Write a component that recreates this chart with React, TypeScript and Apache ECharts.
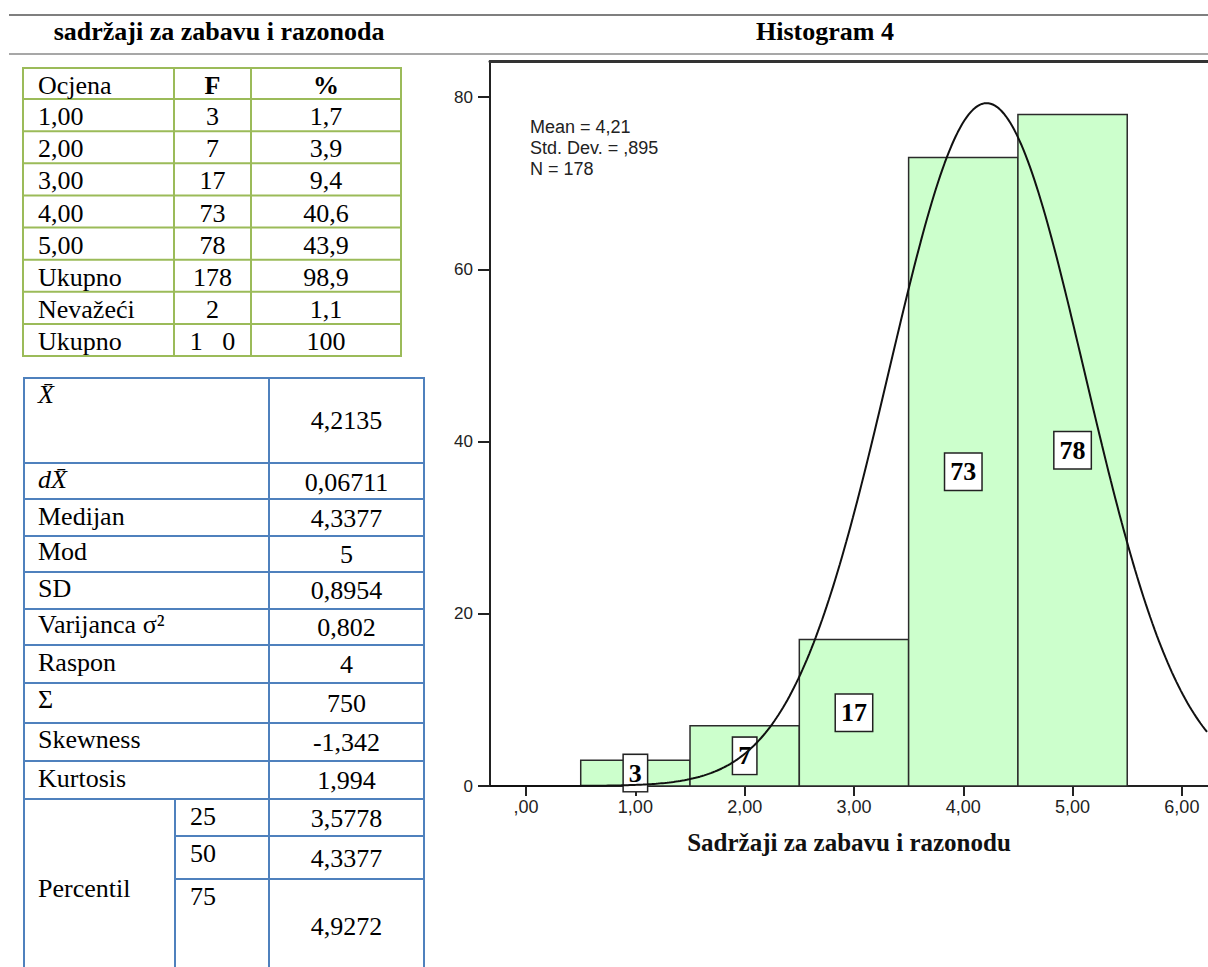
import { useEffect, useRef } from "react";
import * as echarts from "echarts";

// ---------- data ----------
const headerLeft = "sadržaji za zabavu i razonoda";
const headerRight = "Histogram 4";

const freqHeader = ["Ocjena", "F", "%"];
const freqLabels = ["1,00", "2,00", "3,00", "4,00", "5,00", "Ukupno", "Nevažeći", "Ukupno"];
const freqCounts = ["3", "7", "17", "73", "78", "178", "2", "1   0"];
const freqPercents = ["1,7", "3,9", "9,4", "40,6", "43,9", "98,9", "1,1", "100"];

const statLabels = ["X̄", "dX̄", "Medijan", "Mod", "SD", "Varijanca σ²", "Raspon", "Σ", "Skewness", "Kurtosis"];
const statValues = ["4,2135", "0,06711", "4,3377", "5", "0,8954", "0,802", "4", "750", "-1,342", "1,994"];
const percentileLabel = "Percentil";
const percentileKeys = ["25", "50", "75"];
const percentileValues = ["3,5778", "4,3377", "4,9272"];

const binCenters = [1, 2, 3, 4, 5];
const binCounts = [3, 7, 17, 73, 78];
const xTicks = [0, 1, 2, 3, 4, 5, 6];
const yTicks = [0, 20, 40, 60, 80];
const fitMean = 4.2135;
const fitSD = 0.8954;
const fitN = 178;
const statText = ["Mean = 4,21", "Std. Dev. = ,895", "N = 178"];
const xAxisTitle = "Sadržaji za zabavu i razonodu";

// ---------- layout ----------
const SERIF = '"Liberation Serif", "Times New Roman", serif';
const SANS = '"Liberation Sans", Arial, sans-serif';
const FS = 26;
const midOf = (base: number, f = FS, k = 0.34) => base - k * f;

const X_MIN = -0.33;
const X_MAX = 6.239;
const Y_MAX = 84.2;

function txt(text: string, x: number, base: number, opts: any = {}) {
  const f = opts.size || FS;
  const align = opts.align || "left";
  const font = `${opts.italic ? "italic " : ""}${opts.bold ? "bold " : ""}${f}px ${opts.family || SERIF}`;
  return {
    type: "text",
    x,
    y: midOf(base, f, opts.k || 0.34),
    silent: true,
    style: {
      text,
      font,
      fill: opts.color || "#000",
      align,
      verticalAlign: "middle",
      textAlign: align,
      textVerticalAlign: "middle",
    },
  };
}

function ln(x1: number, y1: number, x2: number, y2: number, stroke: string, lineWidth: number) {
  return { type: "line", silent: true, shape: { x1, y1, x2, y2 }, style: { stroke, lineWidth } };
}

function buildGraphics() {
  const g: any[] = [];
  // page rules and headers
  g.push(ln(9, 15, 1208, 15, "#7f7f7f", 2));
  g.push(ln(9, 54, 1208, 54, "#8a8a8a", 1.5));
  g.push(txt(headerLeft, 219, 40, { bold: true, align: "center" }));
  g.push(txt(headerRight, 825, 40, { bold: true, align: "center" }));

  // green frequency table
  const green = "#9bbb59";
  const gx = [23, 174, 251, 401];
  const gTop = 68;
  const gHead = 99;
  const gRow = 32.125;
  const gRows = freqLabels.length;
  const gBottom = gHead + gRows * gRow;
  const gLines = [gTop, gHead];
  for (let i = 1; i <= gRows; i++) gLines.push(gHead + i * gRow);
  gLines.forEach((y) => g.push(ln(gx[0] - 1, y, gx[3] + 1, y, green, 2)));
  gx.forEach((x) => g.push(ln(x, gTop, x, gBottom, green, 2)));
  const cF = (gx[1] + gx[2]) / 2;
  const cP = (gx[2] + gx[3]) / 2;
  g.push(txt(freqHeader[0], 38, 94));
  g.push(txt(freqHeader[1], cF, 94, { bold: true, align: "center" }));
  g.push(txt(freqHeader[2], cP, 94, { bold: true, align: "center" }));
  for (let i = 0; i < gRows; i++) {
    const b = gHead + i * gRow + 26.5;
    g.push(txt(freqLabels[i], 38, b));
    g.push(txt(freqCounts[i], cF, b, { align: "center" }));
    g.push(txt(freqPercents[i], cP, b, { align: "center" }));
  }

  // blue statistics table
  const blue = "#4f81bd";
  const bL = 24, bR = 424, bSep = 269, bSub = 175, bTop = 378, bBot = 967;
  const bLines = [378, 463, 499, 536, 572, 609, 645, 683, 723, 761, 799];
  bLines.forEach((y) => g.push(ln(bL - 1, y, bR + 1, y, blue, 2)));
  [836, 879].forEach((y) => g.push(ln(bSub, y, bR + 1, y, blue, 2)));
  [bL, bSep, bR].forEach((x) => g.push(ln(x, bTop, x, bBot, blue, 2)));
  g.push(ln(bSub, 799, bSub, bBot, blue, 2));
  const labelBase = [403, 488, 525, 560, 597, 633, 671, 708, 748, 787];
  const valueBase = [429, 491, 527, 563, 599, 636, 673, 712, 751, 789];
  const cV = (bSep + bR) / 2;
  for (let i = 0; i < statLabels.length; i++) {
    g.push(txt(statLabels[i], 38, labelBase[i], { italic: i < 2 }));
    g.push(txt(statValues[i], cV, valueBase[i], { align: "center" }));
  }
  const pKeyBase = [825, 862, 905];
  const pValBase = [827, 867, 935];
  g.push(txt(percentileLabel, 38, 897));
  for (let i = 0; i < percentileKeys.length; i++) {
    g.push(txt(percentileKeys[i], 190, pKeyBase[i]));
    g.push(txt(percentileValues[i], cV, pValBase[i], { align: "center" }));
  }

  // stats annotation in the plot
  const sBase = [133, 154, 175];
  statText.forEach((s, i) => g.push(txt(s, 530, sBase[i], { size: 18, family: SANS, color: "#222", k: 0.35 })));
  return g;
}

function normalCurve() {
  const pts: number[][] = [];
  const scale = fitN * 1 / (fitSD * Math.sqrt(2 * Math.PI));
  const step = 0.02;
  for (let x = X_MIN; x <= X_MAX + 1e-9; x += step) {
    const z = (x - fitMean) / fitSD;
    pts.push([x, scale * Math.exp(-0.5 * z * z)]);
  }
  return pts;
}

export default function App() {
  const ref = useRef<HTMLDivElement>(null);
  useEffect(() => {
    if (!ref.current) return;
    const chart = echarts.init(ref.current, undefined, { renderer: "svg" });
    const axisColor = "#222";
    chart.setOption({
      animation: false,
      backgroundColor: "#fff",
      grid: { left: 490, top: 61, right: 0, bottom: 181, containLabel: false },
      xAxis: [
        {
          type: "value",
          min: X_MIN,
          max: X_MAX,
          position: "bottom",
          name: xAxisTitle,
          nameLocation: "middle",
          nameGap: 44,
          nameTextStyle: { fontFamily: SERIF, fontWeight: "bold", fontSize: 25, color: "#111" },
          axisLine: { show: true, onZero: false, lineStyle: { color: axisColor, width: 2 } },
          axisTick: { show: true, length: 10, customValues: xTicks, lineStyle: { color: axisColor, width: 2 } },
          axisLabel: {
            customValues: xTicks,
            formatter: (v: number) => (v === 0 ? ",00" : `${v},00`),
            fontFamily: SANS,
            fontSize: 18,
            color: "#222",
            margin: 12,
          },
          splitLine: { show: false },
        },
        {
          type: "value",
          min: X_MIN,
          max: X_MAX,
          position: "top",
          axisLine: { show: true, onZero: false, lineStyle: { color: "#333", width: 3 } },
          axisTick: { show: false },
          axisLabel: { show: false },
          splitLine: { show: false },
        },
      ],
      yAxis: {
        type: "value",
        min: 0,
        max: Y_MAX,
        axisLine: { show: true, onZero: false, lineStyle: { color: axisColor, width: 2 } },
        axisTick: { show: true, length: 12, customValues: yTicks, lineStyle: { color: axisColor, width: 2 } },
        axisLabel: {
          customValues: yTicks,
          fontFamily: SANS,
          fontSize: 17,
          color: "#222",
          margin: 17,
          padding: [7, 0, 0, 0],
        },
        splitLine: { show: false },
      },
      graphic: buildGraphics(),
      series: [
        {
          type: "custom",
          xAxisIndex: 0,
          z: 2,
          data: binCenters.map((c, i) => [c, binCounts[i]]),
          renderItem: (params: any, api: any) => {
            const c = api.value(0);
            const v = api.value(1);
            const p0 = api.coord([c - 0.5, v]);
            const p1 = api.coord([c + 0.5, 0]);
            const pm = api.coord([c, v / 2]);
            return {
              type: "group",
              children: [
                {
                  type: "rect",
                  shape: { x: p0[0], y: p0[1], width: p1[0] - p0[0], height: p1[1] - p0[1] },
                  style: { fill: "#ccffcc", stroke: "#2b2b2b", lineWidth: 1.5 },
                },
                {
                  type: "text",
                  x: pm[0],
                  y: pm[1],
                  style: {
                    text: String(v),
                    font: `bold 26px ${SERIF}`,
                    fill: "#000",
                    align: "center",
                    verticalAlign: "middle",
                    backgroundColor: "#fff",
                    borderColor: "#222",
                    borderWidth: 1.5,
                    padding: [5, 5, 5, 5],
                  },
                },
              ],
            };
          },
        },
        {
          type: "line",
          xAxisIndex: 0,
          z: 5,
          data: normalCurve(),
          showSymbol: false,
          symbol: "none",
          silent: true,
          lineStyle: { color: "#111", width: 2 },
        },
      ],
    });
    return () => chart.dispose();
  }, []);
  return (
    <div
      ref={ref}
      style={{ position: "fixed", left: 0, top: 0, width: 1208, height: 967, background: "#fff" }}
    />
  );
}
